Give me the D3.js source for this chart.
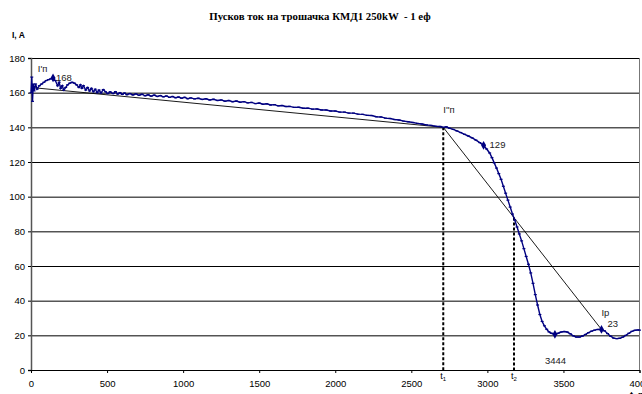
<!DOCTYPE html>
<html>
<head>
<meta charset="utf-8">
<script src="https://cdn.jsdelivr.net/npm/d3@7"></script>
<style>
  body { margin: 0; background: #fff; }
  svg { display: block; font-family: Arial, "Liberation Sans", sans-serif; }
  .tick text { font-size: 9.5px; fill: #000; }
</style>
</head>
<body>
<div id="chart"></div>
<script>
// measured current, time in ms and current in A
const timeMs = [0, 5, 10, 15, 20, 30, 40, 55, 70, 85, 100, 115, 130, 145, 160, 175, 185, 195, 205, 215,
  228, 240, 255, 270, 285, 300, 315, 325, 335, 345, 360, 372, 385, 397, 410, 422, 435, 447, 460, 475,
  490, 505, 520, 540, 555, 570, 585, 600, 615, 630, 650, 670, 690, 710, 730, 750, 770, 790, 810, 830,
  850, 870, 890, 910, 930, 950, 970, 990, 1010, 1030, 1050, 1075, 1100, 1125, 1150, 1175, 1200, 1225, 1250, 1275,
  1300, 1325, 1350, 1375, 1400, 1425, 1450, 1475, 1500, 1525, 1550, 1575, 1600, 1625, 1650, 1675, 1700, 1730, 1760, 1790,
  1820, 1850, 1880, 1910, 1940, 1970, 2000, 2030, 2060, 2090, 2120, 2150, 2180, 2210, 2240, 2270, 2300, 2330, 2360, 2390,
  2420, 2450, 2480, 2510, 2540, 2570, 2600, 2630, 2660, 2690, 2710, 2730, 2750, 2775, 2800, 2825, 2850, 2875, 2900, 2925,
  2950, 2975, 2995, 3015, 3030, 3045, 3060, 3075, 3090, 3105, 3120, 3135, 3150, 3165, 3180, 3195, 3210, 3225, 3240, 3255,
  3270, 3285, 3300, 3315, 3330, 3345, 3360, 3375, 3390, 3405, 3420, 3444, 3465, 3485, 3505, 3525, 3545, 3565, 3585, 3605,
  3625, 3645, 3665, 3685, 3705, 3725, 3750, 3770, 3790, 3810, 3830, 3850, 3870, 3890, 3910, 3930, 3950, 3970, 3990, 4000];
const currentA = [160, 169, 155, 165, 161, 165, 162, 164, 165, 166, 167, 167.5, 168, 168.5, 167, 164, 166, 162.5, 164, 161.5,
  163, 164.5, 165.5, 166, 165.5, 164.5, 163, 164.5, 162.5, 164, 161.5, 163, 161, 162.5, 160.5, 162, 160, 161.5, 159.8, 161.8,
  160.5, 159.5, 160.5, 159.5, 160.6, 159.2, 160, 159, 159.8, 158.8, 159.5, 158.7, 159.3, 158.5, 159.1, 158.2, 158.8, 158, 158.6, 157.8,
  158.3, 157.6, 158.1, 157.3, 157.8, 157.1, 157.5, 156.8, 157.3, 156.5, 157, 156.4, 156.8, 156.1, 156.5, 155.8, 156.2, 155.5, 155.8, 155.1,
  155.5, 154.8, 155.2, 154.5, 154.8, 154.1, 154.4, 153.7, 154, 153.3, 153.6, 152.9, 153.1, 152.4, 152.6, 152, 152.1, 151.5, 151.6, 151,
  151.1, 150.5, 150.6, 150, 150, 149.4, 149.4, 148.8, 148.8, 148.2, 148.2, 147.6, 147.5, 146.9, 146.8, 146.1, 146, 145.3, 145.1, 144.5,
  144.2, 143.6, 143.2, 142.8, 142.3, 141.9, 141.4, 141.1, 140.6, 140.5, 140, 140.3, 139.5, 138.8, 137.9, 137, 136, 135, 133.9, 132.6,
  131.2, 129.6, 127.5, 125.2, 122.5, 119.5, 116.5, 113.3, 110, 106, 102, 98, 94, 90, 86.5, 82.5, 78.5, 74.5, 70, 65.5,
  61, 56, 50, 43.5, 37.5, 32, 28, 25.5, 23.5, 22, 21.2, 20.6, 21.2, 21.9, 22.2, 21.9, 20.9, 19.7, 19, 19,
  19.6, 20.5, 21.5, 22.4, 23, 23.4, 23.4, 22.6, 21, 19.5, 18.4, 18.1, 18.3, 19, 20, 21.2, 22.3, 22.9, 23.1, 23];

// highlighted points with their labels
const markedPoints = [
  { t: 145, i: 168.5, label: "168", dx: 3, dy: 3 },
  { t: 2975, i: 129.6, label: "129", dx: 6, dy: 3 },
  { t: 3444, i: 20.6, label: "3444", dx: -10, dy: 30 },
  { t: 3750, i: 23.4, label: "23", dx: 6, dy: -2 }
];

// tangent construction: I'п -> I''п -> Iр
const tangentT = [0, 2710, 3750];
const tangentI = [163, 140, 23.4];

// characteristic times t1, t2 (dashed drops)
const dropT = [2710, 3175];
const dropI = [140, 88];
const dropNames = ["1", "2"];

const yTicks = [0, 20, 40, 60, 80, 100, 120, 140, 160, 180];
const xTicks = [0, 500, 1000, 1500, 2000, 2500, 3000, 3500, 4000];

const W = 642, H = 394;
const margin = { top: 58, right: 2.5, bottom: 24, left: 31 };
const width = W - margin.left - margin.right;
const height = H - margin.top - margin.bottom;

const svg = d3.select("#chart").append("svg")
  .attr("width", W)
  .attr("height", H);

// title (double space kept as in the original)
svg.append("text")
  .attr("x", 320)
  .attr("y", 20)
  .attr("text-anchor", "middle")
  .style("font-family", "'Liberation Serif', 'Times New Roman', serif")
  .style("font-weight", "bold")
  .style("font-size", "10.8px")
  .style("white-space", "pre")
  .text("Пусков ток на трошачка КМД1 250kW  - 1 еф");

// y axis title
svg.append("text")
  .attr("x", 12)
  .attr("y", 38)
  .style("font-weight", "bold")
  .style("font-size", "8.5px")
  .text("I, A");

// x axis title (partly below the frame, like the original)
svg.append("text")
  .attr("x", 630)
  .attr("y", 398)
  .style("font-weight", "bold")
  .style("font-size", "9px")
  .text("t, ms");

const g = svg.append("g")
  .attr("transform", `translate(${margin.left},${margin.top})`);

const x = d3.scaleLinear().domain([0, 4000]).range([0, width]);
const y = d3.scaleLinear().domain([0, 180]).range([height, 0]);

// gridlines
g.append("g")
  .attr("class", "grid")
  .call(d3.axisLeft(y).tickValues(yTicks.slice(1)).tickSize(-width).tickFormat(""))
  .call(a => a.select(".domain").remove())
  .call(a => a.selectAll("line").attr("stroke", "#000").attr("stroke-width", 1));

// right frame line
g.append("line")
  .attr("x1", width).attr("x2", width)
  .attr("y1", 0).attr("y2", height)
  .attr("stroke", "#777");

// axes
g.append("g")
  .attr("class", "y-axis")
  .call(d3.axisLeft(y).tickValues(yTicks).tickSize(3).tickPadding(3))
  .call(a => a.select(".domain").attr("stroke", "#555").attr("stroke-width", 1.5));

g.append("g")
  .attr("class", "x-axis")
  .attr("transform", `translate(0,${height})`)
  .call(d3.axisBottom(x).tickValues(xTicks).tickSize(3).tickPadding(7).tickFormat(d3.format("d")))
  .call(a => a.select(".domain").attr("stroke", "#000"));

// tangent lines
const tangent = tangentT.map((t, k) => [t, tangentI[k]]);
g.append("path")
  .datum(tangent)
  .attr("fill", "none")
  .attr("stroke", "#000")
  .attr("stroke-width", 0.9)
  .attr("d", d3.line().x(d => x(d[0])).y(d => y(d[1])));

// dashed drops with t1, t2
dropT.forEach((t, k) => {
  g.append("line")
    .attr("x1", x(t)).attr("x2", x(t))
    .attr("y1", y(dropI[k])).attr("y2", y(0))
    .attr("stroke", "#000")
    .attr("stroke-width", 2)
    .attr("stroke-dasharray", "3,2");

  const lbl = g.append("text")
    .attr("x", x(t) - 3)
    .attr("y", height + 9)
    .style("font-size", "9px");
  lbl.append("tspan").text("t");
  lbl.append("tspan").attr("dy", 2).style("font-size", "6px").text(dropNames[k]);
});

// current curve
const data = timeMs.map((t, k) => ({ t: t, i: currentA[k] }));

g.append("path")
  .datum(data)
  .attr("fill", "none")
  .attr("stroke", "#000080")
  .attr("stroke-width", 1.4)
  .attr("d", d3.line().x(d => x(d.t)).y(d => y(d.i)));

// small dash markers on every point
g.selectAll(".pt")
  .data(data)
  .enter().append("line")
  .attr("class", "pt")
  .attr("x1", d => x(d.t) - 1.5)
  .attr("x2", d => x(d.t) + 1.5)
  .attr("y1", d => y(d.i))
  .attr("y2", d => y(d.i))
  .attr("stroke", "#000080")
  .attr("stroke-width", 1.2);

// marked points
g.selectAll(".mark")
  .data(markedPoints)
  .enter().append("path")
  .attr("class", "mark")
  .attr("transform", d => `translate(${x(d.t)},${y(d.i)})`)
  .attr("d", d3.symbol().type(d3.symbolDiamond).size(22))
  .attr("fill", "#000080");

g.selectAll(".mark-label")
  .data(markedPoints)
  .enter().append("text")
  .attr("class", "mark-label")
  .attr("x", d => x(d.t) + d.dx)
  .attr("y", d => y(d.i) + d.dy)
  .style("font-size", "9.5px")
  .attr("fill", "#222")
  .text(d => d.label);

// point names
const names = [
  { t: 45, i: 172, txt: "I'п" },
  { t: 2710, i: 148, txt: "I''п" },
  { t: 3750, i: 31, txt: "Iр" }
];
g.selectAll(".name")
  .data(names)
  .enter().append("text")
  .attr("class", "name")
  .attr("x", d => x(d.t))
  .attr("y", d => y(d.i))
  .style("font-size", "9.5px")
  .attr("fill", "#222")
  .text(d => d.txt);
</script>
</body>
</html>
